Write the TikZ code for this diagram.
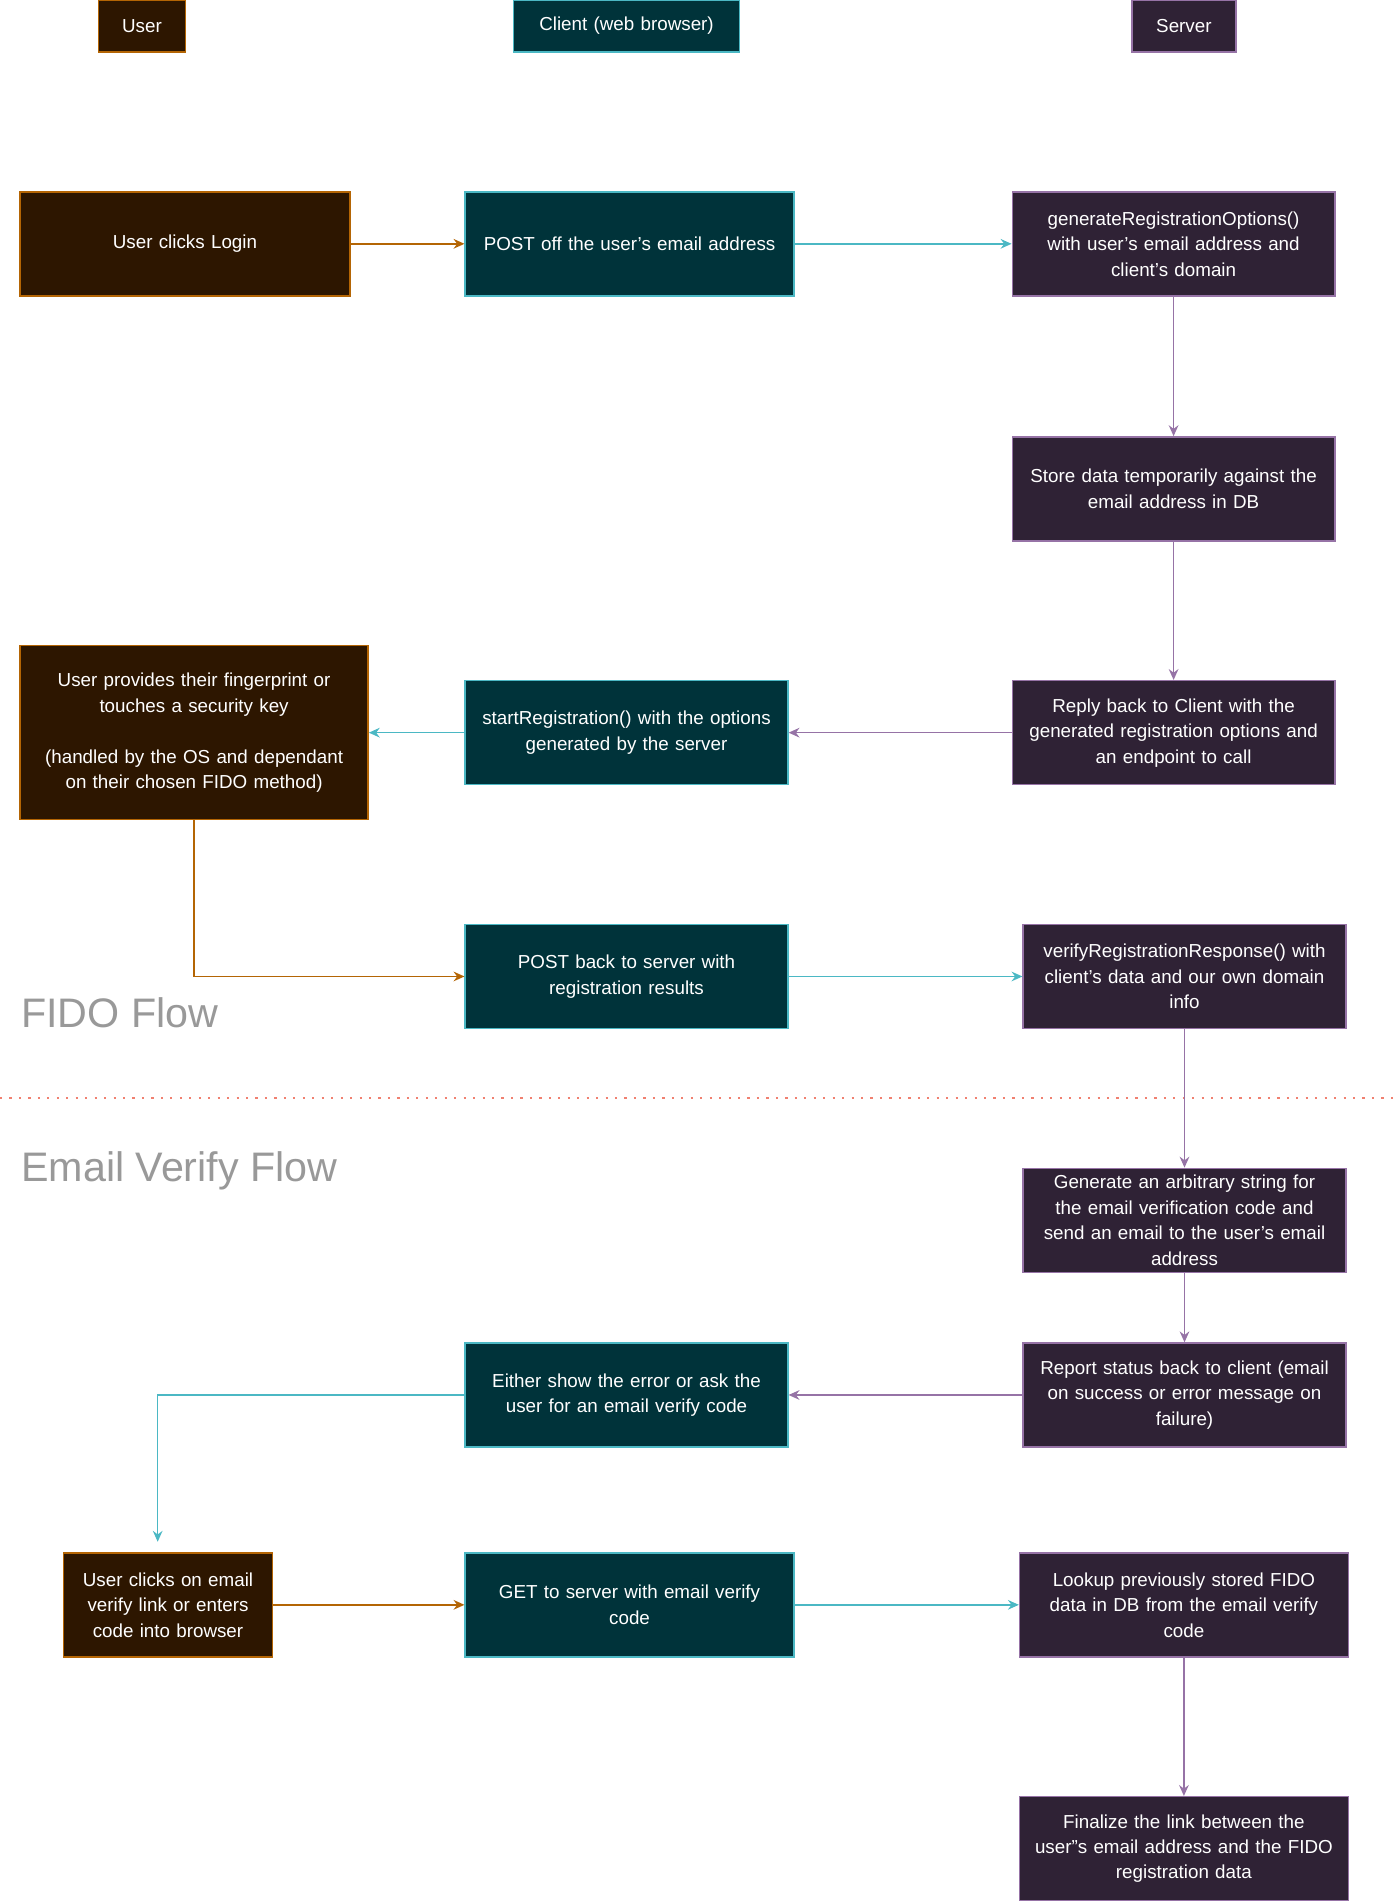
\documentclass[tikz,border=0pt]{standalone}
\usepackage{fontspec}
\setmainfont{Liberation Sans}
\usetikzlibrary{arrows.meta}
\definecolor{uf}{HTML}{2D1600}\definecolor{ub}{HTML}{B46504}
\definecolor{cf}{HTML}{00333A}\definecolor{cb}{HTML}{4BB8C4}
\definecolor{sf}{HTML}{2F2235}\definecolor{sb}{HTML}{9673A6}
\begin{document}
\begin{tikzpicture}[x=1bp,y=-1bp,
 box/.style={draw,line width=1.2bp,text=white,align=center,inner sep=1bp,font=\fontsize{15.5bp}{21bp}\selectfont},
 U/.style={box,fill=uf,draw=ub},C/.style={box,fill=cf,draw=cb},S/.style={box,fill=sf,draw=sb},
 ar/.style={line width=1.2bp,-{Stealth[length=9bp,width=8bp,inset=3bp]}},
 ua/.style={ar,ub},ca/.style={ar,cb},sa/.style={ar,sb},
 big/.style={text=gray!80,font=\fontsize{34bp}{40bp}\selectfont,anchor=west}]
\useasboundingbox (0,0) rectangle (1153,1568);
\newcommand\bx[7]{\node[#1,minimum width={#4-#3},minimum height={#6-#5},text width={#4-#3-4}] (#2) at ({(#3+#4)/2},{(#5+#6)/2}) {#7};}
\bx{U}{hu}{81}{153}{0}{43}{User}
\bx{C}{hc}{423}{610}{0}{43}{Client (web browser)}
\bx{S}{hs}{933}{1019}{0}{43}{Server}
\bx{U}{a}{16}{289}{158}{244}{User clicks Login}
\bx{C}{b}{383}{655}{158}{244}{POST off the user's email address}
\bx{S}{c}{834}{1101}{158}{244}{generateRegistrationOptions()\\with user's email address and\\client's domain}
\bx{S}{d}{834}{1101}{360}{446}{Store data temporarily against the\\email address in DB}
\bx{S}{e}{834}{1101}{561}{647}{Reply back to Client with the\\generated registration options and\\an endpoint to call}
\bx{C}{f}{383}{650}{561}{647}{startRegistration() with the options\\generated by the server}
\bx{U}{g}{16}{304}{532}{676}{User provides their fingerprint or\\touches a security key\\[\baselineskip](handled by the OS and dependant\\on their chosen FIDO method)}
\bx{C}{h}{383}{650}{762}{848}{POST back to server with\\registration results}
\bx{S}{i}{843}{1110}{762}{848}{verifyRegistrationResponse() with\\client's data and our own domain\\info}
\bx{S}{j}{843}{1110}{963}{1049}{Generate an arbitrary string for\\the email verification code and\\send an email to the user's email\\address}
\bx{S}{k}{843}{1110}{1107}{1193}{Report status back to client (email\\on success or error message on\\failure)}
\bx{C}{l}{383}{650}{1107}{1193}{Either show the error or ask the\\user for an email verify code}
\bx{U}{m}{52}{225}{1280}{1366}{User clicks on email\\verify link or enters\\code into browser}
\bx{C}{n}{383}{655}{1280}{1366}{GET to server with email verify\\code}
\bx{S}{o}{840}{1112}{1280}{1366}{Lookup previously stored FIDO\\data in DB from the email verify\\code}
\bx{S}{p}{840}{1112}{1481}{1567}{Finalize the link between the\\user''s email address and the FIDO\\registration data}
\node[big] (t1) at (14,835) {FIDO Flow};
\node[big] (t2) at (14,965) {Email Verify Flow};
\coordinate (dl) at (0,905); \coordinate (dr) at (1153,905);
\draw[color={rgb,255:red,240;green,128;blue,112},line width=1.8bp,dash pattern=on 1.8bp off 6bp] (dl)--(dr);
\draw[ua] (a)--(b);
\draw[ca] (b)--(c);
\draw[sa] (c)--(d);
\draw[sa] (d)--(e);
\draw[sa] (e)--(f);
\draw[ca] (f)--(g);
\draw[ua] (g.south) |- (h.west);
\draw[ca] (h)--(i);
\draw[sa] (i)--(j);
\draw[sa] (j)--(k);
\draw[sa] (k)--(l);
\coordinate (mt) at (130,1271);
\draw[ca] (l.west) -| (mt);
\draw[ua] (m)--(n);
\draw[ca] (n)--(o);
\draw[sa] (o)--(p);
\end{tikzpicture}
\end{document}
